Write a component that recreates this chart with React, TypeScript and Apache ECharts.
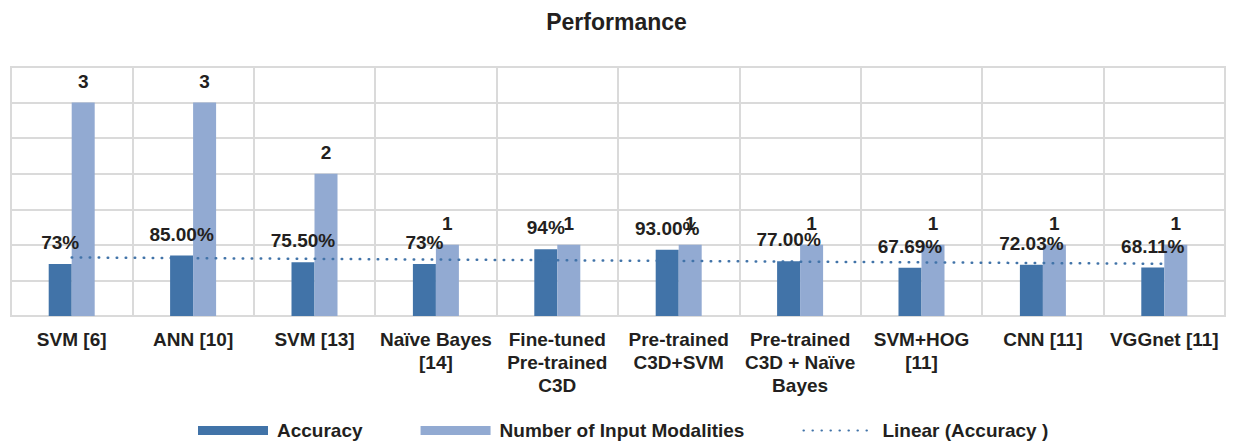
import React, { useEffect, useRef } from "react";
import * as echarts from "echarts";

const categories = [
  "SVM [6]",
  "ANN [10]",
  "SVM [13]",
  "Naïve Bayes\n[14]",
  "Fine-tuned\nPre-trained\nC3D",
  "Pre-trained\nC3D+SVM",
  "Pre-trained\nC3D + Naïve\nBayes",
  "SVM+HOG\n[11]",
  "CNN [11]",
  "VGGnet [11]",
];
const accuracy = [0.73, 0.85, 0.755, 0.73, 0.94, 0.93, 0.77, 0.6769, 0.7203, 0.6811];
const accuracyLabels = ["73%", "85.00%", "75.50%", "73%", "94%", "93.00%", "77.00%", "67.69%", "72.03%", "68.11%"];
const modalities = [3, 3, 2, 1, 1, 1, 1, 1, 1, 1];
// Linear trendline of Accuracy, endpoints
const trendStart = 0.823;
const trendEnd = 0.734;

const FONT = '"Liberation Sans", Arial, Helvetica, sans-serif';
const TEXT = "#231F20";
const GRID = "#DADADA";
const C_ACC = "#4173A8";
const C_MOD = "#92AAD2";

export default function App() {
  const ref = useRef<HTMLDivElement>(null);
  useEffect(() => {
    if (!ref.current) return;
    const chart = echarts.init(ref.current, null, { renderer: "svg" });
    const trend = categories.map((_, i) =>
      i === 0 ? trendStart : i === categories.length - 1 ? trendEnd : null
    );
    chart.setOption({
      animation: false,
      textStyle: { fontFamily: FONT },
      title: {
        text: "Performance",
        left: "center",
        top: 5,
        textStyle: { fontSize: 23, fontWeight: "bold", color: TEXT, fontFamily: FONT },
      },
      grid: {
        left: 11,
        right: 8,
        top: 67,
        bottom: 128,
        show: true,
        borderColor: GRID,
        borderWidth: 2,
        containLabel: false,
      },
      legend: {
        top: 416,
        left: 193,
        itemWidth: 70,
        itemHeight: 9,
        itemGap: 58,
        textStyle: { fontSize: 19, fontWeight: "bold", color: TEXT, fontFamily: FONT, padding: [0, 0, 0, 4] },
        data: [
          { name: "Accuracy", icon: "rect" },
          { name: "Number of Input Modalities", icon: "rect" },
          {
            name: "Linear (Accuracy )",
            itemStyle: { color: "rgba(0,0,0,0)", borderColor: "rgba(0,0,0,0)", borderWidth: 0, opacity: 0 },
          },
        ],
      },
      xAxis: {
        type: "category",
        data: categories,
        axisLine: { show: true, lineStyle: { color: GRID, width: 2 } },
        axisTick: { show: false },
        splitLine: { show: true, lineStyle: { color: GRID, width: 2 } },
        axisLabel: {
          interval: 0,
          margin: 12,
          fontSize: 19,
          fontWeight: "bold",
          color: TEXT,
          lineHeight: 23,
          fontFamily: FONT,
        },
      },
      yAxis: {
        type: "value",
        min: 0,
        max: 3.5,
        interval: 0.5,
        axisLabel: { show: false },
        axisLine: { show: false },
        axisTick: { show: false },
        splitLine: { show: true, lineStyle: { color: GRID, width: 2 } },
      },
      series: [
        {
          name: "Accuracy",
          type: "bar",
          data: accuracy,
          barWidth: 23,
          barGap: "0%",
          itemStyle: { color: C_ACC },
          label: {
            show: true,
            position: "top",
            distance: 12,
            fontSize: 19,
            fontWeight: "bold",
            color: TEXT,
            fontFamily: FONT,
            formatter: (p: any) => accuracyLabels[p.dataIndex],
          },
        },
        {
          name: "Number of Input Modalities",
          type: "bar",
          data: modalities,
          barWidth: 23,
          barGap: "0%",
          itemStyle: { color: C_MOD },
          label: {
            show: true,
            position: "top",
            distance: 12,
            fontSize: 19,
            fontWeight: "bold",
            color: TEXT,
            fontFamily: FONT,
          },
        },
        {
          name: "Linear (Accuracy )",
          type: "line",
          data: trend,
          connectNulls: true,
          symbol: "none",
          showSymbol: false,
          z: 5,
          itemStyle: { color: C_ACC },
          lineStyle: { color: C_ACC, width: 2.5, type: [0.5, 8.5], cap: "round" },
        },
      ],
    });
    return () => chart.dispose();
  }, []);
  return (
    <div
      ref={ref}
      style={{ position: "fixed", left: 0, top: 0, width: 1233, height: 444, background: "#fff" }}
    />
  );
}
